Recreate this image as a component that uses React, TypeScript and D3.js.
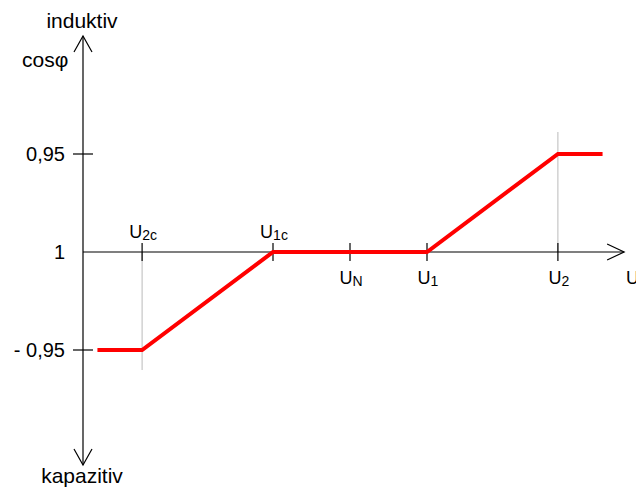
import React from "react";
import * as d3 from "d3";

// Voltage positions (per-unit) of the named points on the U axis
const tickNames = ["U2c", "U1c", "UN", "U1", "U2"];
const tickMain = ["U", "U", "U", "U", "U"];
const tickSubs = ["2c", "1c", "N", "1", "2"];
const tickValues = [0.865, 0.95, 1.0, 1.05, 1.135];
const tickAbove = [true, true, false, false, false];

// cos phi levels (signed reactive offset) and labels
const yLevels = [0.05, 0, -0.05];
const yLabels = ["0,95", "1", "- 0,95"];

// Characteristic curve
const curveU = [0.836, 0.865, 0.95, 1.05, 1.135, 1.164];
const curveQ = [-0.05, -0.05, 0, 0, 0.05, 0.05];

const W = 636;
const H = 489;
const FONT = "'Liberation Sans', Arial, sans-serif";

export default function App() {
  const x = d3.scaleLinear().domain([1.0, 1.05]).range([350, 427]);
  const y = d3.scaleLinear().domain([-0.05, 0.05]).range([350, 154]);
  const x0 = 83;
  const y0 = y(0);
  const xEnd = x(1.178);
  const line = d3
    .line<number>()
    .x((_, i) => x(curveU[i]))
    .y((d) => y(d));
  return (
    <svg
      width={W}
      height={H}
      style={{ position: "absolute", left: 0, top: 0, background: "#fff" }}
      fontFamily={FONT}
    >
      {/* grey guide lines */}
      <line x1={x(tickValues[0])} x2={x(tickValues[0])} y1={y0} y2={370} stroke="#bbb" strokeWidth={1} />
      <line x1={x(tickValues[4])} x2={x(tickValues[4])} y1={132} y2={y0} stroke="#bbb" strokeWidth={1} />
      {/* y axis */}
      <line x1={x0} x2={x0} y1={36} y2={465} stroke="#000" strokeWidth={1.2} />
      <polyline points={`${x0 - 9},52 ${x0},36 ${x0 + 9},52`} fill="none" stroke="#000" strokeWidth={1.2} />
      <polyline points={`${x0 - 9},449 ${x0},465 ${x0 + 9},449`} fill="none" stroke="#000" strokeWidth={1.2} />
      {/* x axis */}
      <line x1={x0} x2={xEnd} y1={y0} y2={y0} stroke="#000" strokeWidth={1.2} />
      <polyline points={`${xEnd - 17},${y0 - 8} ${xEnd},${y0} ${xEnd - 17},${y0 + 8}`} fill="none" stroke="#000" strokeWidth={1.2} />
      {/* y ticks */}
      {yLevels.map((v, i) => (
        <g key={i}>
          {v !== 0 && <line x1={x0 - 10} x2={x0 + 10} y1={y(v)} y2={y(v)} stroke="#000" strokeWidth={1.2} />}
          <text x={65} y={y(v) + 7} textAnchor="end" fontSize={20}>
            {yLabels[i]}
          </text>
        </g>
      ))}
      {/* x ticks */}
      {tickValues.map((v, i) => (
        <g key={tickNames[i]}>
          <line x1={x(v)} x2={x(v)} y1={y0 - 9} y2={y0 + 9} stroke="#000" strokeWidth={1.2} />
          <text x={x(v) + 1} y={tickAbove[i] ? 238 : 284} fontSize={18} textAnchor="middle">
            {tickMain[i]}
            <tspan fontSize={14} dy={2}>
              {tickSubs[i]}
            </tspan>
          </text>
        </g>
      ))}
      <text x={626} y={284} fontSize={18}>U</text>
      {/* curve */}
      <path d={line(curveQ) || ""} fill="none" stroke="#ff0000" strokeWidth={4} strokeLinejoin="miter" />
      {/* labels */}
      <text x={82} y={28} textAnchor="middle" fontSize={21}>induktiv</text>
      <text x={22} y={67} fontSize={21}>cosφ</text>
      <text x={82} y={483} textAnchor="middle" fontSize={21}>kapazitiv</text>
    </svg>
  );
}
